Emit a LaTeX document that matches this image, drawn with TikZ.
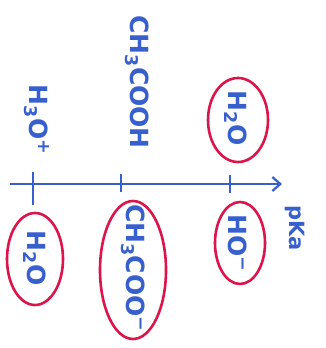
\documentclass[tikz,border=0pt]{standalone}
\usepackage{fontspec}
\setmainfont{DejaVu Sans}
\usetikzlibrary{arrows.meta}
\definecolor{inkblue}{RGB}{55,95,205}
\definecolor{inkred}{RGB}{220,20,75}
\begin{document}
\begin{tikzpicture}[x=1pt,y=1pt,
  lbl/.style={text=inkblue,rotate=-90,font=\fontsize{25}{27}\selectfont\bfseries,inner sep=0pt},
  ring/.style={draw=inkred,line width=2.6pt},
  axisline/.style={draw=inkblue,line width=2.4pt,-{Straight Barb[length=8pt,width=14pt,line width=2.2pt]}},
  tick/.style={draw=inkblue,line width=2.4pt}]
\useasboundingbox (0,0) rectangle (326,348);
% axis
\coordinate (a0) at (10,164);
\coordinate (a1) at (282,164);
\draw[axisline] (a0) -- (a1);
\coordinate (t1a) at (33,176); \coordinate (t1b) at (33,143);
\coordinate (t2a) at (121,174); \coordinate (t2b) at (121,156);
\coordinate (t3a) at (230,173); \coordinate (t3b) at (230,155);
\draw[tick] (t1a) -- (t1b);
\draw[tick] (t2a) -- (t2b);
\draw[tick] (t3a) -- (t3b);
% labels above
\node[lbl] (h3o) at (37,228) {H\textsubscript{3}O\textsuperscript{+}};
\node[lbl] (acid) at (137,266) {CH\textsubscript{3}COOH};
\node[lbl] (h2ot) at (236,230) {H\textsubscript{2}O};
% labels below
\node[lbl] (h2ob) at (35,90) {H\textsubscript{2}O};
\node[lbl] (acet) at (133,80) {CH\textsubscript{3}COO\textsuperscript{−}};
\node[lbl] (ho) at (238,105) {HO\textsuperscript{−}};
\node[lbl,font=\fontsize{21}{23}\selectfont\bfseries] (pka) at (295,120) {pKa};
% rings
\coordinate (e1) at (238,228);
\coordinate (e2) at (35,89);
\coordinate (e3) at (133,78);
\coordinate (e4) at (240,105);
\draw[ring] (e1) ellipse[x radius=30, y radius=42];
\draw[ring] (e2) ellipse[x radius=28, y radius=46];
\draw[ring] (e3) ellipse[x radius=33, y radius=69];
\draw[ring] (e4) ellipse[x radius=25, y radius=41];
\end{tikzpicture}
\end{document}
